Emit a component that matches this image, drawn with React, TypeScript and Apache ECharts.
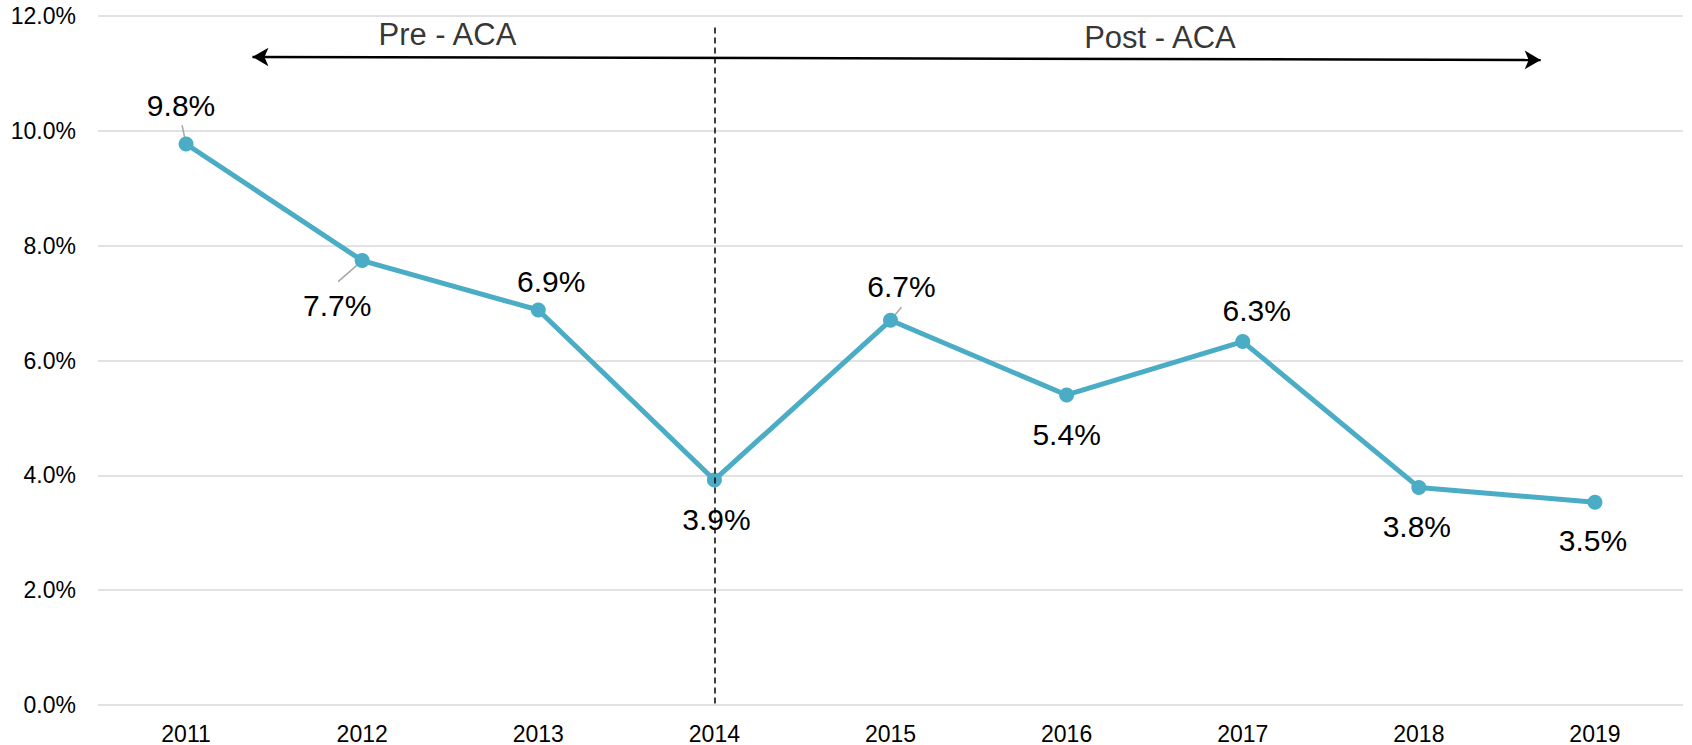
import React, { useEffect, useRef } from "react";
import * as echarts from "echarts";

const years = ["2011", "2012", "2013", "2014", "2015", "2016", "2017", "2018", "2019"];
const rates = [9.77, 7.74, 6.88, 3.92, 6.7, 5.4, 6.33, 3.79, 3.53];
const yTicks = { min: 0, max: 12, interval: 2 };

// label placement (pixel offsets from each point), and leader lines
const labelOffsets: [number, number][] = [
  [-5, -39], [-25, 45], [13, -28], [2, 40], [11, -34], [0, 40], [14, -31], [-2, 39], [-2, 38],
];
const leaderEnds: ([number, number] | null)[] = [
  [-4, -19], [-24, 21], null, null, [11, -13], null, null, null, null,
];

// annotations, in (category index, value) space
const periodLabels = [
  { name: "Pre - ACA", value: [1.484, 11.68] },
  { name: "Post - ACA", value: [5.53, 11.62] },
];
const arrowEnds = [
  [0.377, 11.287],
  [7.692, 11.235],
];
const divideYear = "2014";
const divideTop = 11.8;

const FONT = "'Liberation Sans', Arial, sans-serif";

export default function App() {
  const ref = useRef<HTMLDivElement>(null);
  useEffect(() => {
    if (!ref.current) return;
    const chart = echarts.init(ref.current, null, { renderer: "svg" });
    const option: any = {
      animation: false,
      textStyle: { fontFamily: FONT },
      grid: { left: 98, right: 9, top: 16, bottom: 39 },
      xAxis: [
        {
          type: "category",
          data: years,
          boundaryGap: true,
          axisLine: { show: false },
          axisTick: { show: false },
          axisLabel: { color: "#000", fontSize: 23, fontFamily: FONT, margin: 17 },
        },
        { type: "value", min: -0.5, max: 8.5, show: false, splitLine: { show: false } },
      ],
      yAxis: {
        type: "value",
        min: yTicks.min,
        max: yTicks.max,
        interval: yTicks.interval,
        axisLine: { show: false },
        axisTick: { show: false },
        axisLabel: {
          color: "#000",
          fontSize: 23,
          fontFamily: FONT,
          margin: 22,
          formatter: (v: number) => v.toFixed(1) + "%",
        },
        splitLine: { lineStyle: { color: "#d9d9d9", width: 1.5 } },
      },
      series: [
        {
          type: "line",
          data: rates.map((v, i) => ({
            value: v,
            label: { offset: labelOffsets[i] },
          })),
          symbol: "circle",
          symbolSize: 15,
          itemStyle: { color: "#4bacc6" },
          lineStyle: { color: "#4bacc6", width: 5 },
          label: {
            show: true,
            position: "inside",
            align: "center",
            verticalAlign: "middle",
            color: "#000",
            fontSize: 30,
            fontFamily: FONT,
            formatter: (p: any) => p.value.toFixed(1) + "%",
          },
          markLine: {
            silent: true,
            symbol: "none",
            label: { show: false },
            lineStyle: { color: "#000", type: [6, 4], width: 1.5 },
            data: [[{ coord: [divideYear, divideTop] }, { coord: [divideYear, 0] }]],
          },
          z: 3,
        },
        {
          type: "scatter",
          xAxisIndex: 1,
          symbolSize: 0,
          silent: true,
          data: periodLabels,
          label: {
            show: true,
            position: "inside",
            align: "center",
            verticalAlign: "middle",
            color: "#000",
            fontSize: 31,
            fontFamily: FONT,
            formatter: (p: any) => p.name,
          },
          markLine: {
            silent: true,
            symbol: ["arrow", "arrow"],
            symbolSize: [14, 16],
            label: { show: false },
            lineStyle: { color: "#000", type: "solid", width: 2.5 },
            data: [[{ coord: arrowEnds[0] }, { coord: arrowEnds[1] }]],
          },
        },
      ],
    };
    chart.setOption(option);

    const lines: any[] = [];
    rates.forEach((v, i) => {
      const end = leaderEnds[i];
      if (!end) return;
      const p = chart.convertToPixel({ xAxisIndex: 0, yAxisIndex: 0 }, [i, v]) as number[];
      lines.push({
        type: "line",
        silent: true,
        z: 1,
        shape: { x1: p[0], y1: p[1], x2: p[0] + end[0], y2: p[1] + end[1] },
        style: { stroke: "#a6a6a6", lineWidth: 1.5 },
      });
    });
    chart.setOption({ graphic: { elements: lines } });

    return () => chart.dispose();
  }, []);
  return (
    <div
      ref={ref}
      style={{ position: "fixed", left: 0, top: 0, width: 1692, height: 745, background: "#fff" }}
    />
  );
}
